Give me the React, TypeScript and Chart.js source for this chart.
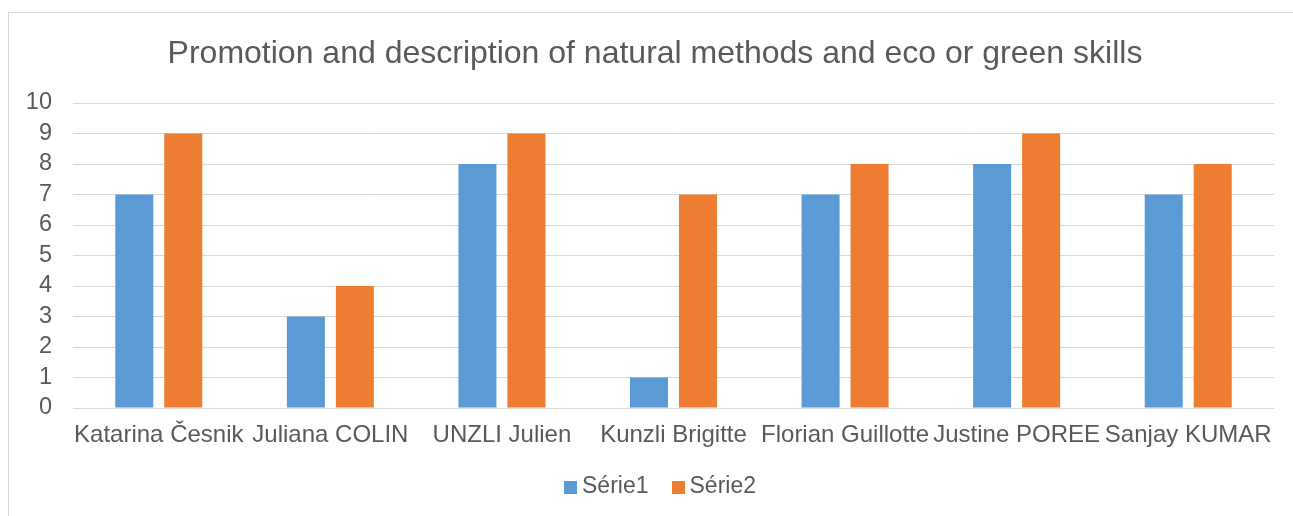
import React, { useEffect, useRef } from "react";
import { Chart, registerables } from "chart.js";

Chart.register(...registerables);

// ---- data ----
const titleText = "Promotion and description of natural methods and eco or green skills";
const categories = [
  "Katarina Česnik",
  "Juliana COLIN",
  "UNZLI Julien",
  "Kunzli Brigitte",
  "Florian Guillotte",
  "Justine POREE",
  "Sanjay KUMAR",
];
const seriesNames = ["Série1", "Série2"];
const serie1 = [7, 3, 8, 1, 7, 8, 7];
const serie2 = [9, 4, 9, 7, 8, 9, 8];
const yMin = 0;
const yMax = 10;
const yStep = 1;

// ---- styles ----
const FONT = '"Liberation Sans", Arial, sans-serif';
const TEXT = "#595959";
const GRID = "#D9D9D9";
const BLUE = "#5B9BD5";
const ORANGE = "#ED7D31";
const W = 1293;
const H = 516;

const legendPlugin = {
  id: "excelLegend",
  afterDraw(chart: any) {
    const ctx = chart.ctx;
    ctx.save();
    ctx.font = `23px ${FONT}`;
    const box = 13;
    const gap = 5;
    const spacing = 23;
    const items = chart.data.datasets.map((ds: any) => ({
      text: ds.label,
      color: ds.backgroundColor,
      w: ctx.measureText(ds.label).width,
    }));
    const total =
      items.reduce((s: number, it: any) => s + box + gap + it.w, 0) +
      spacing * (items.length - 1);
    let x = 660 - total / 2;
    const cy = 487;
    ctx.textBaseline = "middle";
    ctx.textAlign = "left";
    for (const it of items) {
      ctx.fillStyle = it.color;
      ctx.fillRect(Math.round(x), Math.round(cy - box / 2), box, box);
      x += box + gap;
      ctx.fillStyle = TEXT;
      ctx.fillText(it.text, x, cy);
      x += it.w + spacing;
    }
    ctx.restore();
  },
};

export default function App() {
  const ref = useRef<HTMLCanvasElement | null>(null);

  useEffect(() => {
    if (!ref.current) return;
    const chart = new Chart(ref.current, {
      type: "bar",
      data: {
        labels: categories,
        datasets: [
          {
            label: seriesNames[0],
            data: serie1,
            backgroundColor: BLUE,
            categoryPercentage: 0.571,
            barPercentage: 0.776,
          },
          {
            label: seriesNames[1],
            data: serie2,
            backgroundColor: ORANGE,
            categoryPercentage: 0.571,
            barPercentage: 0.776,
          },
        ],
      },
      options: {
        animation: false,
        responsive: false,
        maintainAspectRatio: false,
        devicePixelRatio: 1,
        layout: { padding: { left: 24, right: 7, top: 0, bottom: 48 } },
        plugins: {
          legend: { display: false },
          tooltip: { enabled: false },
          title: {
            display: true,
            text: titleText,
            color: TEXT,
            font: { family: FONT, size: 32, weight: "normal" },
            padding: { top: 35, bottom: 29.6 },
          },
        },
        scales: {
          x: {
            grid: { display: false, drawTicks: false },
            border: { display: false },
            ticks: {
              color: TEXT,
              font: { family: FONT, size: 24 },
              padding: 13,
              autoSkip: false,
              maxRotation: 0,
              minRotation: 0,
            },
            afterFit: (scale: any) => {
              scale.height = 60;
            },
          },
          y: {
            min: yMin,
            max: yMax,
            grid: { color: GRID, lineWidth: 1, drawTicks: false },
            border: { display: false },
            ticks: {
              stepSize: yStep,
              autoSkip: false,
              color: TEXT,
              font: { family: FONT, size: 23.5 },
              padding: 21,
            },
            afterFit: (scale: any) => {
              scale.width = 49;
            },
          },
          yRightSpacer: {
            type: "linear",
            position: "right",
            display: true,
            grid: { display: false, drawTicks: false },
            border: { display: false },
            ticks: { display: false },
            afterFit: (scale: any) => {
              scale.width = 12;
            },
          },
        },
      },
      plugins: [legendPlugin],
    });
    return () => chart.destroy();
  }, []);

  return (
    <div style={{ position: "fixed", left: 0, top: 0, width: W, height: H, overflow: "hidden", background: "#fff" }}>
      <div
        style={{
          position: "absolute",
          left: 8,
          top: 12,
          width: 2000,
          height: 2000,
          borderLeft: `1px solid ${GRID}`,
          borderTop: `1px solid ${GRID}`,
        }}
      />
      <canvas
        ref={ref}
        width={W}
        height={H}
        style={{ position: "absolute", left: 0, top: 0, width: W, height: H }}
      />
    </div>
  );
}
